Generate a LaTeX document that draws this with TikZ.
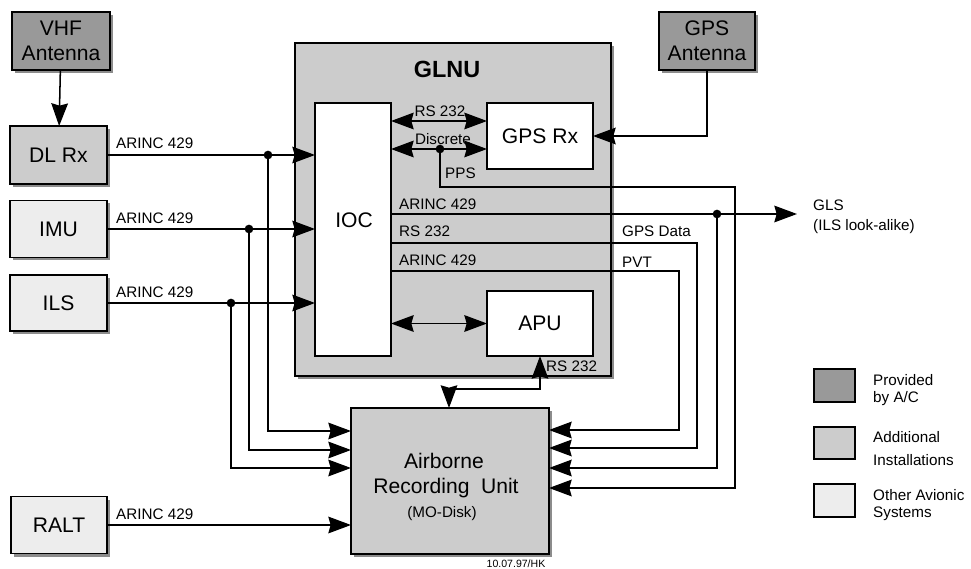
\documentclass[tikz,border=0pt]{standalone}
\usepackage{fontspec}
\setmainfont{Liberation Sans}
\usetikzlibrary{arrows.meta,shadows}
\newlength\pxu \setlength\pxu{0.03cm}
\tikzset{
  plainbox/.style={draw, line width=1.7pt, outer sep=0pt, inner sep=0pt, align=center,
    font=\fontsize{18}{21.5}\selectfont},
  box/.style={plainbox,
    drop shadow={shadow xshift=0.09cm, shadow yshift=-0.09cm, fill=black!45, opacity=1}},
  acbox/.style={box, fill=black!40},
  addbox/.style={box, fill=black!20},
  othbox/.style={box, fill=black!7},
  wbox/.style={plainbox, fill=white},
  conn/.style={line width=1.3pt},
  arr/.style={conn, -{Stealth[length=0.68cm,width=0.5cm,inset=0.07cm]}},
  darr/.style={conn, {Stealth[length=0.68cm,width=0.5cm,inset=0.07cm]}-{Stealth[length=0.68cm,width=0.5cm,inset=0.07cm]}},
  lbl/.style={anchor=base west, font=\fontsize{13}{15}\selectfont, inner sep=0pt},
  clbl/.style={anchor=base, font=\fontsize{13}{15}\selectfont, inner sep=0pt},
  btxt/.style={anchor=base, font=\fontsize{18}{21.5}\selectfont, inner sep=0pt},
  jdot/.style={circle, fill=black, inner sep=0pt, minimum size=0.26cm},
}
\begin{document}
\begin{tikzpicture}[x=0.03cm,y=-0.03cm]
\useasboundingbox (0,0) rectangle (971,569);

% boxes
\node[acbox, minimum width=98\pxu, minimum height=58\pxu] (vhf) at (61,41) {VHF\\Antenna};
\node[addbox, minimum width=97\pxu, minimum height=58\pxu] (dlrx) at (58.5,155) {DL Rx};
\node[othbox, minimum width=97\pxu, minimum height=57\pxu] (imu) at (58.5,229) {IMU};
\node[othbox, minimum width=97\pxu, minimum height=56\pxu] (ils) at (58.5,303) {ILS};
\node[othbox, minimum width=96\pxu, minimum height=57\pxu] (ralt) at (59,525) {RALT};
\node[acbox, minimum width=96\pxu, minimum height=58\pxu] (gpsant) at (707,41) {GPS\\Antenna};

\node[addbox, minimum width=316\pxu, minimum height=333\pxu] (glnu) at (453,209.5) {};
\node[btxt, font=\bfseries\fontsize{20}{24}\selectfont] (glnut) at (447,78) {GLNU};
\node[wbox, minimum width=76\pxu, minimum height=253\pxu] (ioc) at (353,229.5) {};
\node[btxt] (ioct) at (354,228) {IOC};
\node[wbox, minimum width=106\pxu, minimum height=66\pxu] (gpsrx) at (540,136) {GPS Rx};
\node[wbox, minimum width=106\pxu, minimum height=65\pxu] (apu) at (540,323.5) {APU};

\node[addbox, minimum width=198\pxu, minimum height=146\pxu] (aru) at (450,481) {};
\node[btxt] (arut1) at (444,468) {Airborne};
\node[btxt] (arut2) at (446,493) {Recording\hspace{0.55em}Unit};
\node[clbl] (arut3) at (442,517) {(MO-Disk)};

% legend
\node[plainbox, fill=black!40, minimum width=41\pxu, minimum height=33\pxu] (lg1) at (834.5,385.5) {};
\node[plainbox, fill=black!20, minimum width=41\pxu, minimum height=32\pxu] (lg2) at (834.5,443) {};
\node[plainbox, fill=black!7, minimum width=41\pxu, minimum height=33\pxu] (lg3) at (834.5,500.5) {};
\node[lbl] (lt1a) at (873,386) {Provided};
\node[lbl] (lt1b) at (873,403) {by A/C};
\node[lbl] (lt2a) at (873,442) {Additional};
\node[lbl] (lt2b) at (873,465) {Installations};
\node[lbl] (lt3a) at (873,500) {Other Avionic};
\node[lbl] (lt3b) at (873,517) {Systems};

% junctions and bends
\coordinate (j1) at (268,155);
\coordinate (j2) at (249,229);
\coordinate (j3) at (231,303);
\coordinate (j4) at (440,149);
\coordinate (j5) at (717,214);
\coordinate (c1) at (735,187);
\coordinate (c2) at (697,243);
\coordinate (c3) at (679,271);
\coordinate (c4) at (540,389);
\coordinate (glsend) at (797,214);

% left inputs
\draw[arr] (vhf) -- (dlrx);
\draw[arr] (dlrx.east) -- (dlrx.east -| ioc.west);
\draw[arr] (imu.east) -- (imu.east -| ioc.west);
\draw[arr] (ils.east) -- (ils.east -| ioc.west);
\draw[arr] (j1) |- (aru.west |- 0,431);
\draw[arr] (j2) |- (aru.west |- 0,450);
\draw[arr] (j3) |- (aru.west |- 0,468);
\draw[arr] (ralt.east) -- (ralt.east -| aru.west);

% inside GLNU
\draw[darr] (ioc.east |- 0,121) -- (gpsrx.west |- 0,121);
\draw[darr] (ioc.east |- 0,149) -- (gpsrx.west |- 0,149);
\draw[darr] (ioc.east |- apu.west) -- (apu.west);
\draw[arr] (gpsant.south) |- (gpsrx.east);

% outputs
\draw[arr] (j4) |- (c1) |- (aru.east |- 0,488);
\draw[arr] (ioc.east |- 0,214) -- (glsend);
\draw[arr] (j5) |- (aru.east |- 0,468);
\draw[arr] (ioc.east |- 0,243) -- (c2) |- (aru.east |- 0,448);
\draw[arr] (ioc.east |- 0,271) -- (c3) |- (aru.east |- 0,430);
\draw[darr] (apu.south) -- (c4) -| (449,0 |- aru.north);

% dots
\node[jdot] (d1) at (j1) {};
\node[jdot] (d2) at (j2) {};
\node[jdot] (d3) at (j3) {};
\node[jdot] (d4) at (j4) {};
\node[jdot] (d5) at (j5) {};

% labels
\node[lbl] (l1) at (116,149) {ARINC 429};
\node[lbl] (l2) at (116,224) {ARINC 429};
\node[lbl] (l3) at (116,298) {ARINC 429};
\node[lbl] (l4) at (116,519) {ARINC 429};
\node[clbl] (l5) at (440,117) {RS 232};
\node[clbl] (l6) at (443,145) {Discrete};
\node[lbl] (l7) at (445,179) {PPS};
\node[lbl] (l8) at (399,210) {ARINC 429};
\node[lbl] (l9) at (399,237) {RS 232};
\node[lbl] (l10) at (399,266) {ARINC 429};
\node[lbl] (l11) at (622,237) {GPS Data};
\node[lbl] (l12) at (622,268) {PVT};
\node[lbl] (l13) at (813,211) {GLS};
\node[lbl] (l14) at (813,231) {(ILS look-alike)};
\node[lbl] (l15) at (546,372) {RS 232};
\node[anchor=base, inner sep=0pt, font=\fontsize{9}{11}\selectfont] (date) at (516,567) {10.07.97/HK};
\end{tikzpicture}
\end{document}
